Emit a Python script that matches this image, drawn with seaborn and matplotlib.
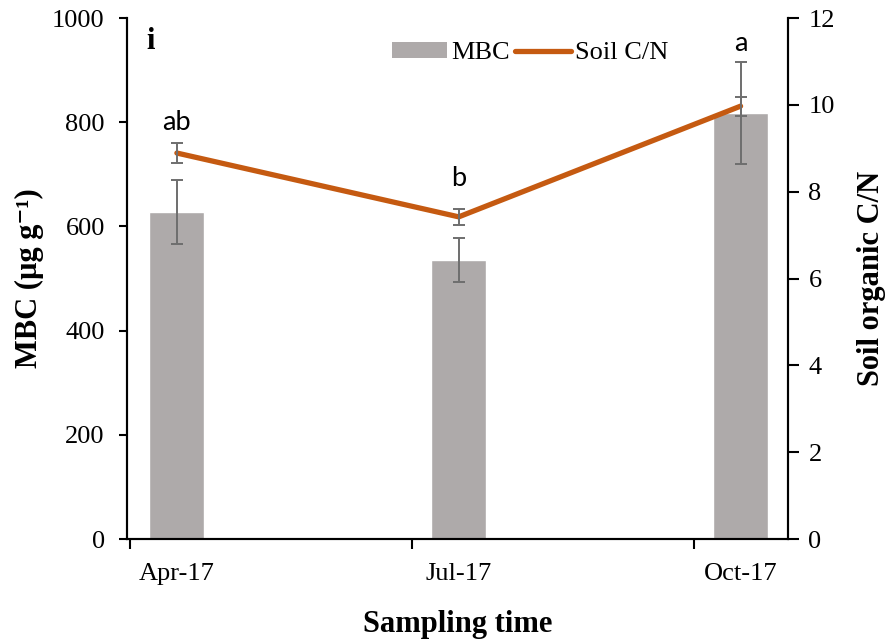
import numpy as np
import pandas as pd
import matplotlib
matplotlib.use("Agg")
import matplotlib.pyplot as plt
import seaborn as sns
from matplotlib.patches import Patch
from matplotlib.lines import Line2D

# Sampling dates and measurements
months = ["Apr-17", "Jul-17", "Oct-17"]
mbc = [628, 535, 818]            # microbial biomass carbon, µg g-1
mbc_se = [62, 42, 98]
soil_cn = [8.89, 7.42, 9.97]     # soil organic C/N ratio
soil_cn_se = [0.23, 0.19, 0.22]
letters = ["ab", "b", "a"]
letter_y = [9.6, 8.31, 11.42]

sns.set_theme(style="white")
plt.rcParams["font.family"] = ["Liberation Serif", "DejaVu Serif"]
plt.rcParams.update({"text.color": "black", "axes.labelcolor": "black",
                     "xtick.color": "black", "ytick.color": "black"})

bar_color = "#aeaaaa"
line_color = "#c55a11"
err_color = "#6e6e6e"

df = pd.DataFrame({"month": months, "MBC": mbc, "CN": soil_cn})
pos = np.arange(len(months))

fig = plt.figure(figsize=(8.85, 6.43), dpi=100)
ax = fig.add_axes([0.1435, 0.1617, 0.7465, 0.8103])

sns.barplot(data=df, x="month", y="MBC", order=months, color=bar_color,
            width=0.195, saturation=1, ax=ax, errorbar=None, zorder=2)
ax.errorbar(pos, mbc, yerr=mbc_se, fmt="none", ecolor=err_color,
            elinewidth=1.4, capsize=4.5, capthick=1.4, zorder=3)

ax2 = ax.twinx()
sns.lineplot(x=pos, y=soil_cn, color=line_color, linewidth=3.8, ax=ax2,
             zorder=4, solid_capstyle="round")
ax2.errorbar(pos, soil_cn, yerr=soil_cn_se, fmt="none", ecolor=err_color,
             elinewidth=1.4, capsize=4.5, capthick=1.4, zorder=5)

for x, lab, y in zip(pos, letters, letter_y):
    ax2.text(x, y, lab, ha="center", va="center", fontsize=19.5,
             family=["Lato", "DejaVu Sans"], color="black")

# Axes limits and ticks
ax.set_xlim(-0.177, 2.167)
ax.set_ylim(0, 1000)
ax2.set_ylim(0, 12)
ax.set_yticks(np.arange(0, 1001, 200))
ax2.set_yticks(np.arange(0, 13, 2))
ax.set_xticks(pos)
ax.set_xticklabels(months)
ax.set_xticks(pos - 0.167, minor=True)

ax.tick_params(axis="x", which="major", length=0, pad=17, labelsize=19,
               labelcolor="black")
ax.tick_params(axis="x", which="minor", length=7, width=1.5, color="black",
               direction="out", bottom=True)
ax.tick_params(axis="y", length=6, width=1.5, color="black", direction="out",
               left=True, labelsize=19, pad=10, labelcolor="black")
ax2.tick_params(axis="y", length=8, width=1.5, color="black", direction="out",
                right=True, labelsize=19, pad=7, labelcolor="black")

for a in (ax, ax2):
    for side in ("left", "bottom", "right"):
        a.spines[side].set_visible(True)
        a.spines[side].set_color("black")
        a.spines[side].set_linewidth(1.5)
    a.spines["top"].set_visible(False)

ax.set_xlabel("Sampling time", fontsize=22, fontweight="bold", labelpad=18,
              color="black")
ax.set_ylabel("MBC (µg g⁻¹)", fontsize=22, fontweight="bold", labelpad=6,
              color="black")
ax2.set_ylabel("Soil organic C/N", fontsize=22, fontweight="bold",
               labelpad=16, color="black")

ax.text(0.03, 0.955, "i", transform=ax.transAxes, fontsize=22,
        fontweight="bold", va="center", ha="left", color="black")

handles = [Patch(facecolor=bar_color, edgecolor="none", label="MBC"),
           Line2D([0], [0], color=line_color, linewidth=3.8,
                  solid_capstyle="round", label="Soil C/N")]
fig.legend(handles=handles, loc="center", ncol=2,
           bbox_to_anchor=(530 / 885, 1 - 53 / 643), frameon=False,
           fontsize=19, handlelength=2.1, handleheight=0.6,
           handletextpad=0.15, columnspacing=0.2, borderpad=0,
           labelcolor="black")

fig.savefig("out.png", dpi=100)
